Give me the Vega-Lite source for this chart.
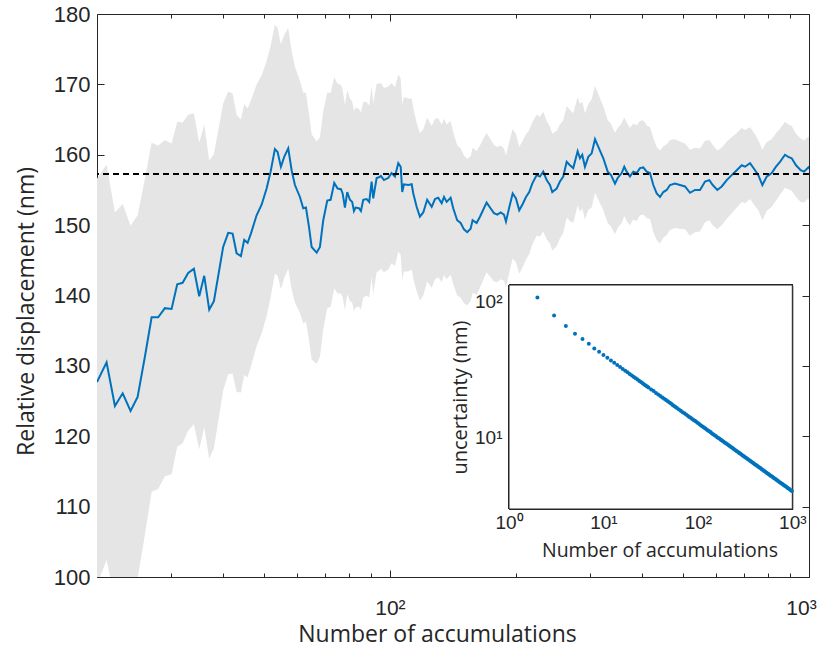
{
  "$schema": "https://vega.github.io/schema/vega-lite/v6.json",
  "width": 712,
  "height": 563,
  "autosize": {"type": "none"},
  "padding": {"left": 97, "top": 14, "right": 19, "bottom": 73},
  "background": "white",
  "config": {
    "view": {"stroke": null},
    "axis": {
      "grid": false,
      "zindex": 1,
      "domainColor": "#262626",
      "domainWidth": 1,
      "tickColor": "#262626",
      "tickWidth": 1,
      "labelColor": "#262626",
      "labelFont": "Liberation Sans",
      "titleFont": "Open Sans",
      "titleColor": "#262626",
      "titleFontWeight": "normal",
      "labelFlush": false,
      "labelOverlap": false,
      "labelBound": false
    }
  },
  "datasets": {
    "main": [
      {"n":20,"v":127.7,"lo":98.9,"hi":156.6},
      {"n":21.08,"v":130.5,"lo":102.4,"hi":158.6},
      {"n":22.07,"v":124.3,"lo":96.8,"hi":151.8},
      {"n":23.03,"v":126.1,"lo":99.2,"hi":153.0},
      {"n":24.05,"v":123.6,"lo":97.3,"hi":149.9},
      {"n":25.0,"v":125.6,"lo":99.8,"hi":151.4},
      {"n":26.02,"v":131.3,"lo":106.0,"hi":156.6},
      {"n":27.0,"v":136.9,"lo":112.1,"hi":161.7},
      {"n":27.99,"v":136.9,"lo":112.5,"hi":161.3},
      {"n":29.04,"v":138.2,"lo":114.3,"hi":162.1},
      {"n":30.13,"v":138.1,"lo":114.6,"hi":161.6},
      {"n":31.08,"v":141.6,"lo":118.5,"hi":164.7},
      {"n":32.01,"v":141.8,"lo":119.0,"hi":164.6},
      {"n":33.01,"v":143.2,"lo":120.8,"hi":165.7},
      {"n":34.06,"v":143.8,"lo":121.7,"hi":165.9},
      {"n":35.07,"v":139.9,"lo":118.1,"hi":161.7},
      {"n":36.05,"v":142.8,"lo":121.3,"hi":164.3},
      {"n":37.05,"v":138.0,"lo":116.8,"hi":159.2},
      {"n":38.02,"v":139.2,"lo":118.3,"hi":160.1},
      {"n":40.0,"v":146.9,"lo":126.5,"hi":167.3},
      {"n":41.13,"v":148.9,"lo":128.8,"hi":169.0},
      {"n":42.13,"v":148.8,"lo":128.9,"hi":168.7},
      {"n":43.07,"v":146.0,"lo":126.3,"hi":165.7},
      {"n":44.10,"v":145.6,"lo":126.2,"hi":165.0},
      {"n":44.91,"v":147.9,"lo":128.7,"hi":167.2},
      {"n":45.75,"v":147.5,"lo":128.4,"hi":166.6},
      {"n":46.59,"v":148.8,"lo":129.9,"hi":167.7},
      {"n":48.07,"v":151.4,"lo":132.8,"hi":170.0},
      {"n":49.41,"v":152.9,"lo":134.6,"hi":171.3},
      {"n":50.79,"v":155.2,"lo":137.1,"hi":173.3},
      {"n":51.92,"v":157.6,"lo":139.7,"hi":175.5},
      {"n":53.15,"v":160.8,"lo":143.1,"hi":178.5},
      {"n":53.95,"v":160.4,"lo":142.8,"hi":178.0},
      {"n":54.94,"v":158.3,"lo":140.9,"hi":175.7},
      {"n":55.94,"v":159.7,"lo":142.5,"hi":177.0},
      {"n":57.19,"v":160.9,"lo":143.8,"hi":178.0},
      {"n":58.27,"v":157.8,"lo":140.9,"hi":174.7},
      {"n":59.34,"v":155.7,"lo":139.0,"hi":172.5},
      {"n":60.99,"v":154.0,"lo":137.5,"hi":170.5},
      {"n":62.11,"v":152.4,"lo":136.0,"hi":168.8},
      {"n":63.04,"v":152.5,"lo":136.3,"hi":168.8},
      {"n":64.09,"v":149.8,"lo":133.7,"hi":165.9},
      {"n":65.04,"v":146.9,"lo":130.9,"hi":162.9},
      {"n":66.87,"v":146.1,"lo":130.3,"hi":161.9},
      {"n":68.08,"v":146.9,"lo":131.3,"hi":162.5},
      {"n":69.33,"v":150.7,"lo":135.2,"hi":166.2},
      {"n":70.87,"v":153.5,"lo":138.2,"hi":168.8},
      {"n":72.2,"v":153.6,"lo":138.4,"hi":168.8},
      {"n":73.65,"v":156.0,"lo":141.0,"hi":171.0},
      {"n":75.03,"v":155.2,"lo":140.3,"hi":170.1},
      {"n":76.41,"v":155.1,"lo":140.3,"hi":169.9},
      {"n":77.12,"v":154.5,"lo":139.8,"hi":169.2},
      {"n":78.10,"v":152.5,"lo":137.9,"hi":167.1},
      {"n":79.09,"v":154.7,"lo":140.2,"hi":169.2},
      {"n":80.27,"v":153.6,"lo":139.2,"hi":168.0},
      {"n":81.28,"v":153.3,"lo":139.0,"hi":167.6},
      {"n":82.06,"v":152.0,"lo":137.8,"hi":166.2},
      {"n":82.81,"v":152.5,"lo":138.3,"hi":166.7},
      {"n":84.33,"v":152.4,"lo":138.4,"hi":166.5},
      {"n":85.27,"v":152.0,"lo":138.0,"hi":166.0},
      {"n":86.36,"v":153.6,"lo":139.7,"hi":167.5},
      {"n":87.99,"v":153.7,"lo":140.0,"hi":167.5},
      {"n":89.25,"v":153.3,"lo":139.7,"hi":167.0},
      {"n":90.43,"v":156.2,"lo":142.6,"hi":169.8},
      {"n":91.24,"v":153.8,"lo":140.3,"hi":167.3},
      {"n":92.96,"v":156.7,"lo":143.3,"hi":170.1},
      {"n":94.13,"v":156.8,"lo":143.5,"hi":170.1},
      {"n":95.17,"v":157.0,"lo":143.8,"hi":170.2},
      {"n":96.76,"v":156.4,"lo":143.3,"hi":169.5},
      {"n":99.07,"v":156.7,"lo":143.7,"hi":169.7},
      {"n":100.9,"v":157.4,"lo":144.6,"hi":170.2},
      {"n":102.8,"v":156.9,"lo":144.2,"hi":169.6},
      {"n":104.7,"v":158.8,"lo":146.2,"hi":171.4},
      {"n":106.1,"v":158.3,"lo":145.8,"hi":170.8},
      {"n":107.0,"v":154.7,"lo":142.2,"hi":167.2},
      {"n":108.0,"v":155.8,"lo":143.4,"hi":168.2},
      {"n":110.6,"v":155.7,"lo":143.4,"hi":168.0},
      {"n":112.7,"v":155.8,"lo":143.7,"hi":168.0},
      {"n":113.7,"v":154.5,"lo":142.4,"hi":166.6},
      {"n":115.8,"v":152.6,"lo":140.6,"hi":164.6},
      {"n":117.9,"v":151.2,"lo":139.3,"hi":163.1},
      {"n":120.1,"v":151.8,"lo":140.0,"hi":163.6},
      {"n":122.7,"v":153.6,"lo":142.0,"hi":165.3},
      {"n":125.8,"v":152.6,"lo":141.1,"hi":164.1},
      {"n":128.1,"v":153.7,"lo":142.3,"hi":165.1},
      {"n":130.4,"v":153.9,"lo":142.6,"hi":165.2},
      {"n":132.9,"v":153.1,"lo":141.9,"hi":164.3},
      {"n":134.6,"v":154.0,"lo":142.9,"hi":165.1},
      {"n":136.6,"v":153.3,"lo":142.3,"hi":164.3},
      {"n":139.6,"v":153.9,"lo":143.0,"hi":164.8},
      {"n":141.6,"v":152.4,"lo":141.6,"hi":163.2},
      {"n":144.7,"v":150.7,"lo":140.0,"hi":161.4},
      {"n":147.5,"v":150.3,"lo":139.7,"hi":160.9},
      {"n":150.2,"v":149.4,"lo":138.9,"hi":159.9},
      {"n":152.9,"v":149.0,"lo":138.6,"hi":159.4},
      {"n":155.8,"v":149.5,"lo":139.2,"hi":159.8},
      {"n":157.5,"v":150.7,"lo":140.4,"hi":161.0},
      {"n":161.0,"v":150.3,"lo":140.1,"hi":160.5},
      {"n":164.0,"v":151.2,"lo":141.1,"hi":161.3},
      {"n":167.6,"v":152.4,"lo":142.4,"hi":162.4},
      {"n":170.1,"v":153.2,"lo":143.3,"hi":163.1},
      {"n":173.3,"v":152.5,"lo":142.7,"hi":162.3},
      {"n":177.1,"v":151.7,"lo":142.0,"hi":161.4},
      {"n":180.4,"v":151.5,"lo":141.9,"hi":161.1},
      {"n":183.8,"v":151.8,"lo":142.3,"hi":161.3},
      {"n":187.1,"v":151.5,"lo":142.1,"hi":160.9},
      {"n":189.2,"v":150.5,"lo":141.1,"hi":159.9},
      {"n":192.6,"v":152.5,"lo":143.2,"hi":161.8},
      {"n":196.3,"v":154.5,"lo":145.3,"hi":163.7},
      {"n":199.9,"v":153.8,"lo":144.7,"hi":162.9},
      {"n":203.5,"v":152.1,"lo":143.1,"hi":161.1},
      {"n":207.4,"v":153.0,"lo":144.0,"hi":162.0},
      {"n":211.2,"v":154.0,"lo":145.1,"hi":162.9},
      {"n":215.0,"v":154.7,"lo":145.9,"hi":163.5},
      {"n":218.6,"v":155.9,"lo":147.2,"hi":164.6},
      {"n":223.9,"v":157.1,"lo":148.5,"hi":165.7},
      {"n":228.0,"v":156.9,"lo":148.4,"hi":165.4},
      {"n":232.2,"v":157.6,"lo":149.1,"hi":166.1},
      {"n":236.6,"v":156.4,"lo":148.0,"hi":164.8},
      {"n":240.9,"v":155.7,"lo":147.4,"hi":164.0},
      {"n":244.0,"v":154.7,"lo":146.4,"hi":163.0},
      {"n":250.0,"v":155.2,"lo":147.0,"hi":163.4},
      {"n":254.5,"v":156.2,"lo":148.1,"hi":164.3},
      {"n":259.2,"v":156.9,"lo":148.9,"hi":164.9},
      {"n":264.1,"v":159.0,"lo":151.1,"hi":166.9},
      {"n":268.9,"v":158.5,"lo":150.6,"hi":166.4},
      {"n":273.8,"v":158.1,"lo":150.3,"hi":165.9},
      {"n":280.5,"v":160.5,"lo":152.8,"hi":168.2},
      {"n":284.1,"v":159.5,"lo":151.9,"hi":167.2},
      {"n":287.7,"v":160.0,"lo":152.4,"hi":167.6},
      {"n":292.0,"v":158.3,"lo":150.8,"hi":165.9},
      {"n":297.4,"v":159.7,"lo":152.2,"hi":167.2},
      {"n":303.0,"v":160.2,"lo":152.5,"hi":167.9},
      {"n":308.6,"v":162.2,"lo":154.6,"hi":169.8},
      {"n":315.4,"v":160.9,"lo":153.4,"hi":168.4},
      {"n":323.0,"v":159.5,"lo":152.1,"hi":166.9},
      {"n":330.9,"v":157.6,"lo":150.3,"hi":164.9},
      {"n":337.0,"v":157.1,"lo":149.8,"hi":164.4},
      {"n":344.4,"v":155.9,"lo":148.7,"hi":163.1},
      {"n":349.5,"v":156.7,"lo":149.6,"hi":163.8},
      {"n":357.3,"v":157.4,"lo":150.3,"hi":164.5},
      {"n":362.4,"v":158.3,"lo":151.3,"hi":165.3},
      {"n":367.2,"v":157.6,"lo":150.6,"hi":164.6},
      {"n":373.9,"v":156.9,"lo":150.0,"hi":163.8},
      {"n":380.8,"v":157.6,"lo":150.8,"hi":164.4},
      {"n":388.0,"v":157.4,"lo":150.6,"hi":164.2},
      {"n":395.1,"v":158.1,"lo":151.4,"hi":164.8},
      {"n":402.3,"v":158.2,"lo":151.5,"hi":164.9},
      {"n":409.9,"v":157.6,"lo":151.0,"hi":164.2},
      {"n":417.4,"v":157.4,"lo":150.9,"hi":163.9},
      {"n":425.1,"v":155.7,"lo":149.0,"hi":162.4},
      {"n":433.1,"v":154.5,"lo":147.9,"hi":161.1},
      {"n":441.1,"v":154.0,"lo":147.4,"hi":160.6},
      {"n":449.2,"v":154.7,"lo":148.2,"hi":161.2},
      {"n":457.6,"v":155.0,"lo":148.6,"hi":161.5},
      {"n":466.0,"v":155.7,"lo":149.3,"hi":162.1},
      {"n":478.9,"v":155.9,"lo":149.6,"hi":162.2},
      {"n":492.2,"v":155.7,"lo":149.5,"hi":161.9},
      {"n":506.0,"v":155.5,"lo":149.4,"hi":161.6},
      {"n":520.0,"v":154.6,"lo":148.5,"hi":160.7},
      {"n":534.5,"v":155.0,"lo":149.0,"hi":161.0},
      {"n":549.5,"v":155.0,"lo":149.1,"hi":160.9},
      {"n":564.8,"v":156.2,"lo":150.4,"hi":162.0},
      {"n":578.3,"v":156.4,"lo":150.7,"hi":162.1},
      {"n":589.2,"v":155.7,"lo":150.0,"hi":161.4},
      {"n":604.3,"v":155.0,"lo":149.4,"hi":160.6},
      {"n":619.1,"v":155.5,"lo":150.0,"hi":161.0},
      {"n":636.3,"v":156.4,"lo":150.9,"hi":161.9},
      {"n":654.0,"v":157.1,"lo":151.7,"hi":162.5},
      {"n":672.3,"v":157.8,"lo":152.5,"hi":163.1},
      {"n":691.0,"v":158.5,"lo":153.3,"hi":163.8},
      {"n":703.7,"v":158.3,"lo":153.1,"hi":163.5},
      {"n":723.3,"v":158.8,"lo":153.7,"hi":163.9},
      {"n":743.4,"v":157.8,"lo":152.7,"hi":162.9},
      {"n":757.0,"v":157.1,"lo":152.1,"hi":162.1},
      {"n":773.9,"v":155.7,"lo":150.7,"hi":160.7},
      {"n":792.6,"v":156.9,"lo":152.0,"hi":161.8},
      {"n":814.7,"v":157.4,"lo":152.6,"hi":162.2},
      {"n":834.1,"v":158.3,"lo":153.5,"hi":163.1},
      {"n":852.7,"v":159.0,"lo":154.3,"hi":163.7},
      {"n":876.4,"v":160.0,"lo":155.3,"hi":164.7},
      {"n":892.5,"v":159.7,"lo":155.1,"hi":164.3},
      {"n":909.3,"v":159.5,"lo":154.9,"hi":164.1},
      {"n":931.1,"v":158.5,"lo":154.0,"hi":163.0},
      {"n":955.4,"v":157.8,"lo":153.3,"hi":162.3},
      {"n":972.9,"v":157.6,"lo":153.2,"hi":162.0},
      {"n":996.2,"v":158.2,"lo":153.8,"hi":162.6},
      {"n":1000,"v":158.0,"lo":153.6,"hi":162.4}
    ],
    "inset": [
      {"n":2,"u":107},{"n":3,"u":79},{"n":4,"u":66},{"n":5,"u":58},{"n":6,"u":53},
      {"n":7,"u":49},{"n":8,"u":45.2},{"n":9,"u":42.8},{"n":10,"u":40.5},{"n":11,"u":38.6},
      {"n":12,"u":36.9},{"n":13,"u":35.5},{"n":14,"u":34.2},{"n":15,"u":33.0},{"n":16,"u":32.0},
      {"n":17,"u":31.0},{"n":18,"u":30.2},{"n":19,"u":29.4},{"n":20,"u":28.6},{"n":21,"u":27.9},
      {"n":22,"u":27.3},{"n":23,"u":26.7},{"n":24,"u":26.1},{"n":25,"u":25.6},{"n":26,"u":25.1},
      {"n":27,"u":24.6},{"n":28,"u":24.2},{"n":29,"u":23.8},{"n":30,"u":23.4},{"n":32,"u":22.6},
      {"n":34,"u":22.0},{"n":36,"u":21.3},{"n":38,"u":20.8},{"n":40,"u":20.2},{"n":42,"u":19.7},
      {"n":44,"u":19.3},{"n":46,"u":18.9},{"n":48,"u":18.5},{"n":50,"u":18.1},{"n":52,"u":17.8},
      {"n":54,"u":17.4},{"n":56,"u":17.1},{"n":58,"u":16.8},{"n":60,"u":16.5},{"n":63,"u":16.1},
      {"n":66,"u":15.8},{"n":69,"u":15.4},{"n":72,"u":15.1},{"n":75,"u":14.8},{"n":78,"u":14.5},
      {"n":81,"u":14.2},{"n":84,"u":14.0},{"n":87,"u":13.7},{"n":90,"u":13.5},{"n":93,"u":13.3},
      {"n":96,"u":13.1},{"n":100,"u":12.8},{"n":104,"u":12.55},{"n":108,"u":12.3},{"n":112,"u":12.1},
      {"n":116,"u":11.9},{"n":120,"u":11.7},{"n":124,"u":11.5},{"n":128,"u":11.3},{"n":132,"u":11.15},
      {"n":136,"u":11.0},{"n":140,"u":10.8},{"n":145,"u":10.6},{"n":150,"u":10.45},{"n":155,"u":10.3},
      {"n":160,"u":10.1},{"n":165,"u":9.97},{"n":170,"u":9.82},{"n":175,"u":9.68},{"n":180,"u":9.54},
      {"n":186,"u":9.39},{"n":192,"u":9.24},{"n":198,"u":9.10},{"n":205,"u":8.94},{"n":212,"u":8.79},
      {"n":219,"u":8.65},{"n":226,"u":8.51},{"n":233,"u":8.39},{"n":240,"u":8.26},{"n":248,"u":8.13},
      {"n":256,"u":8.0},{"n":264,"u":7.88},{"n":272,"u":7.76},{"n":280,"u":7.65},{"n":289,"u":7.53},
      {"n":298,"u":7.41},{"n":307,"u":7.31},{"n":316,"u":7.20},{"n":326,"u":7.09},{"n":336,"u":6.98},
      {"n":346,"u":6.88},{"n":356,"u":6.78},{"n":367,"u":6.68},{"n":378,"u":6.58},{"n":389,"u":6.49},
      {"n":400,"u":6.4},{"n":412,"u":6.31},{"n":424,"u":6.22},{"n":436,"u":6.13},{"n":449,"u":6.04},
      {"n":462,"u":5.96},{"n":475,"u":5.87},{"n":489,"u":5.79},{"n":503,"u":5.71},{"n":518,"u":5.62},
      {"n":533,"u":5.54},{"n":548,"u":5.47},{"n":564,"u":5.39},{"n":580,"u":5.31},{"n":597,"u":5.24},
      {"n":614,"u":5.17},{"n":632,"u":5.09},{"n":650,"u":5.02},{"n":669,"u":4.95},{"n":688,"u":4.88},
      {"n":708,"u":4.81},{"n":728,"u":4.74},{"n":749,"u":4.68},{"n":770,"u":4.61},{"n":792,"u":4.55},
      {"n":815,"u":4.48},{"n":838,"u":4.42},{"n":862,"u":4.36},{"n":887,"u":4.30},{"n":912,"u":4.24},
      {"n":938,"u":4.18},{"n":965,"u":4.12},{"n":990,"u":4.07}
    ]
  },
  "layer": [
    {
      "data": {"name": "main"},
      "resolve": {"axis": {"x": "independent", "y": "independent"}},
      "layer": [
        {
          "mark": {"type": "area", "color": "#e5e5e5", "opacity": 1, "clip": true},
          "encoding": {
            "x": {
              "field": "n", "type": "quantitative",
              "scale": {"type": "log", "domain": [20, 1000], "nice": false},
              "axis": {
                "orient": "bottom",
                "values": [30,40,50,60,70,80,90,100,200,300,400,500,600,700,800,900,1000],
                "labelExpr": "datum.value == 100 ? '10²' : datum.value == 1000 ? '10³' : ''",
                "tickSize": {"condition": {"test": "datum.value == 100 || datum.value == 1000", "value": -7}, "value": -4},
                "labelOffset": {"condition": {"test": "datum.value == 1000", "value": -8}, "value": 0},
                "labelFontSize": 21,
                "labelPadding": 44,
                "labelBaseline": "alphabetic",
                "title": "Number of accumulations",
                "titleFontSize": 23,
                "titleX": 340,
                "titleY": 64,
                "titleAlign": "center",
                "titleBaseline": "alphabetic"
              }
            },
            "y": {
              "field": "lo", "type": "quantitative",
              "scale": {"domain": [100, 180], "nice": false, "zero": false},
              "axis": {
                "orient": "left",
                "values": [100,110,120,130,140,150,160,170,180],
                "tickSize": -7,
                "labelFontSize": 22,
                "labelPadding": 14,
                "labelBaseline": "middle",
                "title": "Relative displacement (nm)",
                "titleFontSize": 23,
                "titleAngle": 270,
                "titleX": -64,
                "titleY": 297,
                "titleAlign": "center",
                "titleBaseline": "alphabetic"
              }
            },
            "y2": {"field": "hi"}
          }
        },
        {
          "mark": {"type": "line", "color": "#0072BD", "strokeWidth": 2, "clip": true},
          "encoding": {
            "x": {
              "field": "n", "type": "quantitative",
              "scale": {"type": "log", "domain": [20, 1000], "nice": false},
              "axis": {
                "orient": "top",
                "values": [30,40,50,60,70,80,90,100,200,300,400,500,600,700,800,900,1000],
                "labels": false,
                "tickSize": {"condition": {"test": "datum.value == 100 || datum.value == 1000", "value": -7}, "value": -4},
                "title": null
              }
            },
            "y": {
              "field": "v", "type": "quantitative",
              "scale": {"domain": [100, 180], "nice": false, "zero": false},
              "axis": {
                "orient": "right",
                "values": [100,110,120,130,140,150,160,170,180],
                "labels": false,
                "tickSize": -7,
                "title": null
              }
            }
          }
        },
        {
          "mark": {"type": "rule", "color": "#000000", "strokeWidth": 1.6, "strokeDash": [6, 4]},
          "encoding": {
            "y": {"datum": 157.3, "type": "quantitative", "axis": null}
          }
        }
      ]
    },
    {
      "data": {"name": "inset"},
      "resolve": {"axis": {"x": "independent", "y": "independent"}},
      "layer": [
        {
          "mark": {"type": "rect", "fill": "white", "stroke": "#262626", "strokeWidth": 1},
          "encoding": {
            "x": {
              "datum": 1, "type": "quantitative",
              "scale": {"type": "log", "domain": [1, 1000], "range": [412, 695.3], "nice": false},
              "axis": null
            },
            "x2": {"datum": 1000},
            "y": {
              "datum": 3, "type": "quantitative",
              "scale": {"type": "log", "domain": [3, 132], "range": [495, 271], "nice": false},
              "axis": null
            },
            "y2": {"datum": 132}
          }
        },
        {
          "mark": {"type": "circle", "color": "#0072BD", "size": 16, "opacity": 1},
          "encoding": {
            "x": {
              "field": "n", "type": "quantitative",
              "scale": {"type": "log", "domain": [1, 1000], "range": [412, 695.3], "nice": false},
              "axis": {
                "orient": "bottom",
                "offset": -68,
                "values": [1,2,3,4,5,6,7,8,9,10,20,30,40,50,60,70,80,90,100,200,300,400,500,600,700,800,900,1000],
                "labelExpr": "datum.value == 1 ? '10⁰' : datum.value == 10 ? '10¹' : datum.value == 100 ? '10²' : datum.value == 1000 ? '10³' : ''",
                "tickSize": {"condition": {"test": "datum.value == 1 || datum.value == 10 || datum.value == 100 || datum.value == 1000", "value": -5}, "value": -3},
                "labelFontSize": 19,
                "labelPadding": 24,
                "labelBaseline": "alphabetic",
                "title": "Number of accumulations",
                "titleFontSize": 19.5,
                "titleX": 562.5,
                "titleY": 47,
                "titleAlign": "center",
                "titleBaseline": "alphabetic"
              }
            },
            "y": {
              "field": "u", "type": "quantitative",
              "scale": {"type": "log", "domain": [3, 132], "range": [495, 271], "nice": false},
              "axis": {
                "orient": "left",
                "offset": -412,
                "values": [3,4,5,6,7,8,9,10,20,30,40,50,60,70,80,90,100],
                "labelExpr": "datum.value == 10 ? '10¹' : datum.value == 100 ? '10²' : ''",
                "tickSize": {"condition": {"test": "datum.value == 10 || datum.value == 100", "value": -5}, "value": -3},
                "labelFontSize": 19,
                "labelPadding": 12,
                "labelBaseline": "middle",
                "title": "uncertainty (nm)",
                "titleFontSize": 20,
                "titleAngle": 270,
                "titleX": -43,
                "titleY": 383,
                "titleAlign": "center",
                "titleBaseline": "alphabetic"
              }
            }
          }
        },
        {
          "mark": {"type": "circle", "opacity": 0, "size": 1},
          "encoding": {
            "x": {
              "field": "n", "type": "quantitative",
              "scale": {"type": "log", "domain": [1, 1000], "range": [412, 695.3], "nice": false},
              "axis": {
                "orient": "top",
                "offset": -271,
                "values": [1,2,3,4,5,6,7,8,9,10,20,30,40,50,60,70,80,90,100,200,300,400,500,600,700,800,900,1000],
                "labels": false,
                "tickSize": {"condition": {"test": "datum.value == 1 || datum.value == 10 || datum.value == 100 || datum.value == 1000", "value": -5}, "value": -3},
                "title": null
              }
            },
            "y": {
              "field": "u", "type": "quantitative",
              "scale": {"type": "log", "domain": [3, 132], "range": [495, 271], "nice": false},
              "axis": {
                "orient": "right",
                "offset": -16.7,
                "values": [3,4,5,6,7,8,9,10,20,30,40,50,60,70,80,90,100],
                "labels": false,
                "tickSize": {"condition": {"test": "datum.value == 10 || datum.value == 100", "value": -5}, "value": -3},
                "title": null
              }
            }
          }
        }
      ]
    }
  ],
  "resolve": {"scale": {"x": "independent", "y": "independent"}}
}
